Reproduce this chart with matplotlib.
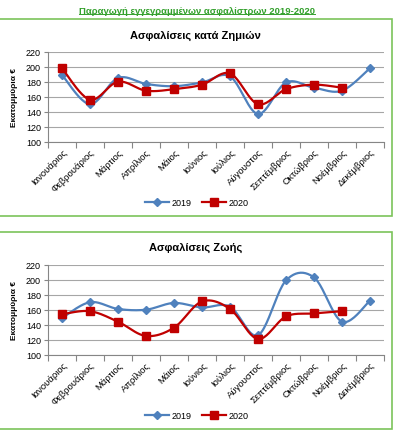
import numpy as np
import matplotlib.pyplot as plt
from matplotlib.patches import Rectangle
from matplotlib.lines import Line2D

plt.rcParams['font.family'] = ['Liberation Sans', 'DejaVu Sans']

months = ["Ιανουάριος", "Φεβρουάριος", "Μάρτιος", "Απρίλιος", "Μάιος", "Ιούνιος",
          "Ιούλιος", "Αύγουστος", "Σεπτέμβριος", "Οκτώβριος", "Νοέμβριος", "Δεκέμβριος"]

# Ασφαλίσεις κατά Ζημιών (εκατ. €)
zimies_2019 = [189, 150, 185, 177, 174, 179, 187, 137, 179, 172, 168, 198]
zimies_2020 = [198, 156, 180, 168, 170, 176, 191, 150, 170, 176, 172]

# Ασφαλίσεις Ζωής (εκατ. €)
zois_2019 = [149, 170, 161, 160, 169, 163, 164, 126, 199, 203, 144, 172]
zois_2020 = [154, 158, 144, 125, 136, 171, 161, 121, 151, 155, 158]

yticks = [100, 120, 140, 160, 180, 200, 220]

BLUE = '#4F81BD'
RED = '#C00000'
GREEN = '#33A02C'
FRAME = '#7CC35A'


def smooth(xs, ys, n=24):
    # excel-like smoothed line (bezier through points)
    xs = np.asarray(xs, float)
    ys = np.asarray(ys, float)
    px, py = [], []
    m = len(xs)
    for i in range(m - 1):
        i0 = max(i - 1, 0)
        i3 = min(i + 2, m - 1)
        c1x = xs[i] + (xs[i + 1] - xs[i0]) / 6
        c1y = ys[i] + (ys[i + 1] - ys[i0]) / 6
        c2x = xs[i + 1] - (xs[i3] - xs[i]) / 6
        c2y = ys[i + 1] - (ys[i3] - ys[i]) / 6
        t = np.linspace(0, 1, n)
        a, b, c, d = (1 - t) ** 3, 3 * (1 - t) ** 2 * t, 3 * (1 - t) * t ** 2, t ** 3
        px.extend(a * xs[i] + b * c1x + c * c2x + d * xs[i + 1])
        py.extend(a * ys[i] + b * c1y + c * c2y + d * ys[i + 1])
    return px, py


W, H = 394, 431
fig = plt.figure(figsize=(W / 100, H / 100), dpi=100)


def fx(p):
    return p / W


def fy(p):
    return 1 - p / H


def panel(top, bottom, ax_top, title, title_y, legend_y, s19, s20):
    fig.patches.append(Rectangle((fx(-2), fy(bottom)), fx(394), (bottom - top) / H,
                                 transform=fig.transFigure, fill=False,
                                 edgecolor=FRAME, lw=1.2))
    ax = fig.add_axes([fx(48), fy(ax_top + 90), fx(336), 90 / H])
    x19 = np.arange(len(s19))
    x20 = np.arange(len(s20))
    sx, sy = smooth(x19, s19)
    ax.plot(sx, sy, color=BLUE, lw=1.6, zorder=3)
    ax.plot(x19, s19, ls='none', marker='D', ms=4, color=BLUE, zorder=3)
    sx, sy = smooth(x20, s20)
    ax.plot(sx, sy, color=RED, lw=1.6, zorder=4)
    ax.plot(x20, s20, ls='none', marker='s', ms=5.8, color=RED, zorder=4)

    ax.set_xlim(-0.5, 11.5)
    ax.set_ylim(100, 220)
    ax.set_yticks(yticks)
    ax.set_yticklabels([str(v) for v in yticks], fontsize=6.5)
    ax.grid(axis='y', color='#A6A6A6', lw=0.8)
    ax.set_axisbelow(True)
    ax.set_xticks(np.arange(12))
    ax.set_xticklabels(months, rotation=45, ha='right', rotation_mode='anchor', fontsize=6.8)
    ax.set_xticks(np.arange(-0.5, 12, 1), minor=True)
    ax.tick_params(axis='x', which='major', length=0, pad=4)
    ax.tick_params(axis='x', which='minor', length=4, color='#868686', width=0.8)
    ax.tick_params(axis='y', length=3, color='#868686', width=0.8, pad=2)
    for s in ['top', 'right']:
        ax.spines[s].set_visible(False)
    for s in ['left', 'bottom']:
        ax.spines[s].set_color('#868686')
        ax.spines[s].set_linewidth(0.8)
    ax.set_ylabel("Εκατομμύρια €", fontsize=6, fontweight='bold', labelpad=6)

    fig.text(0.497, fy(title_y), title, ha='center', va='center',
             fontsize=8, fontweight='bold')
    handles = [Line2D([], [], color=BLUE, lw=1.6, marker='D', ms=4),
               Line2D([], [], color=RED, lw=1.6, marker='s', ms=5.8)]
    fig.legend(handles, ['2019', '2020'], loc='center', ncol=2,
               bbox_to_anchor=(0.5, fy(legend_y)), frameon=False, fontsize=6.5,
               handlelength=2.6, columnspacing=1.2, handletextpad=0.3)
    return ax


panel(20, 217, 52.7, "Ασφαλίσεις κατά Ζημιών", 36, 204, zimies_2019, zimies_2020)
panel(233, 430, 265.7, "Ασφαλίσεις Ζωής", 248, 417, zois_2019, zois_2020)

t = fig.text(0.5, fy(11), "Παραγωγή εγγεγραμμένων ασφαλίστρων 2019-2020",
             ha='center', va='center', fontsize=6.8, fontweight='bold', color=GREEN)
fig.canvas.draw()
bb = t.get_window_extent().transformed(fig.transFigure.inverted())
fig.add_artist(Line2D([bb.x0, bb.x1], [bb.y0 + 0.002, bb.y0 + 0.002],
                      transform=fig.transFigure, color=GREEN, lw=0.7))

fig.savefig('out.png', dpi=100)
